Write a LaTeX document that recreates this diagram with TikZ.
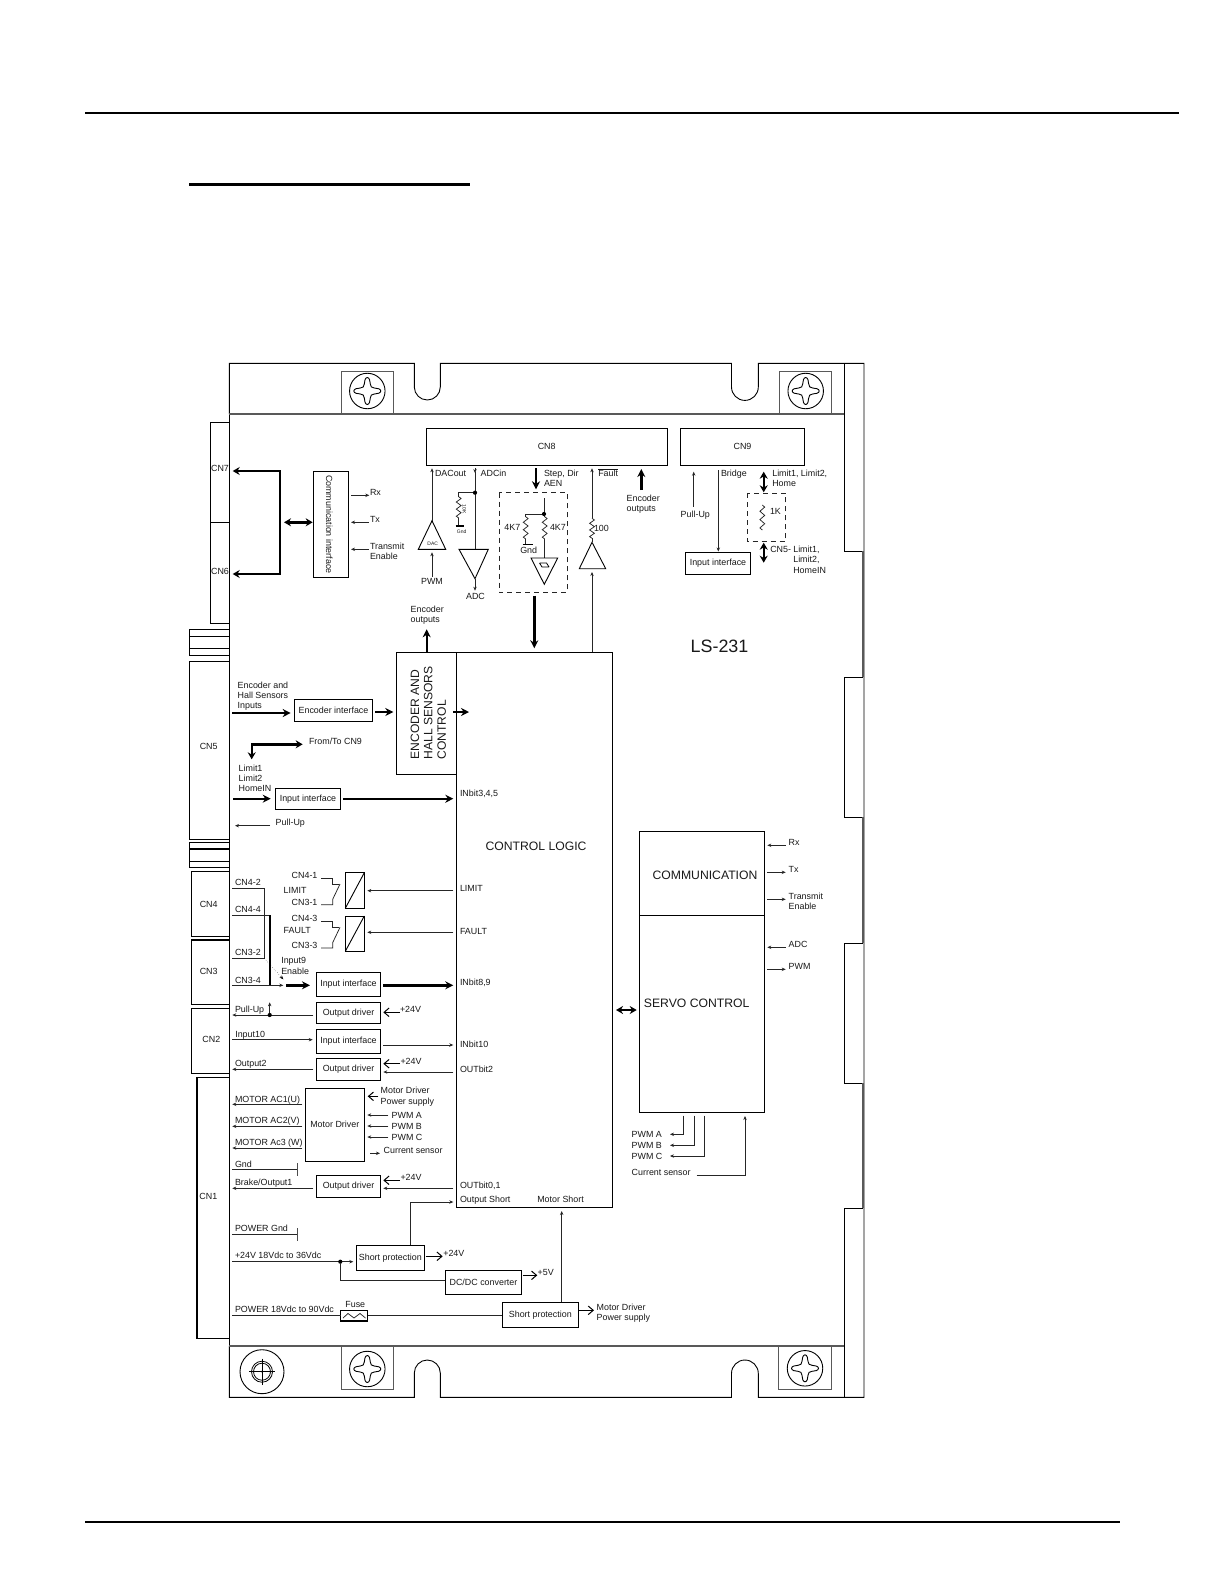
\documentclass[tikz,border=0pt]{standalone}
\usepackage{fontspec}
\setmainfont{Liberation Sans}
\usetikzlibrary{arrows.meta}
\definecolor{ink}{gray}{0.1}
\tikzset{
  boxst/.style={draw=black,line width=0.9pt,inner sep=0pt,outer sep=0pt,align=center,font=\fontsize{8.9}{10}\selectfont,text=ink},
  board/.style={draw=black,line width=0.9pt},
  boardg/.style={draw=black!65,line width=1.1pt},
  thin wire/.style={draw=black!85,line width=0.75pt},
  arr/.style={draw=black!85,line width=0.75pt,-{Stealth[length=4pt,width=3.4pt]}},
  rarr/.style={draw=black!85,line width=0.75pt,{Stealth[length=4pt,width=3.4pt]}-},
  dbl/.style={draw=black!85,line width=0.75pt,{Stealth[length=4pt,width=3.4pt]}-{Stealth[length=4pt,width=3.4pt]}},
  hv/.style={draw=black,line width=2.4pt,-{Stealth[length=8pt,width=8pt]}},
  hvd/.style={draw=black,line width=2.4pt,{Stealth[length=7pt,width=8pt]}-{Stealth[length=7pt,width=8pt]}},
  openarr/.style={draw=black,line width=1pt,-{Straight Barb[length=5pt,width=8.5pt]}},
  lb/.style={inner sep=0pt,outer sep=0pt,text=ink,font=\fontsize{8.9}{10}\selectfont},
  dashbox/.style={draw=black!85,line width=0.9pt,dash pattern=on 5pt off 4pt},
  dotst/.style={circle,fill=black,inner sep=0pt,minimum size=4.2pt},
}
\newcounter{cc}
\newcommand\bx[6]{\pgfmathsetmacro\bw{#4-#2}\pgfmathsetmacro\bh{#5-#3}\node[boxst,minimum width=\bw pt,minimum height=\bh pt] (#1) at ({(#2+#4)/2},{(#3+#5)/2}) {#6};}
\newcommand\lab[3]{\stepcounter{cc}\node[lb,anchor=base west] (t\thecc) at (#1,#2+3.2) {#3};}
\newcommand\labc[3]{\stepcounter{cc}\node[lb,anchor=base] (t\thecc) at (#1,#2+3.2) {#3};}
\newcommand\wire[5]{\stepcounter{cc}\coordinate (a\thecc) at (#2,#3);\coordinate (b\thecc) at (#4,#5);\draw[#1] (a\thecc) -- (b\thecc);}
\newcommand\resv[3]{\pgfmathsetmacro\rh{(#3-#2)/6}\draw[thin wire] (#1,#2) -- ++(2.4,\rh/2) -- ++(-4.8,\rh) -- ++(4.8,\rh) -- ++(-4.8,\rh) -- ++(4.8,\rh) -- ++(-4.8,\rh) -- (#1,#3);}
\newcommand\screw[3]{\begin{scope}[shift={(#2,#3)}]
  \node[draw=black,line width=0.9pt,circle,minimum size=35.5pt,inner sep=0pt,outer sep=0pt] (#1) at (0,0) {};
  \draw[line width=0.9pt] (13.5,0) .. controls (13.5,-2) and (10,-3) .. (7,-3) .. controls (4.5,-3) and (3,-4.5) .. (3,-7) .. controls (3,-10) and (2,-13.5) .. (0,-13.5)
   .. controls (-2,-13.5) and (-3,-10) .. (-3,-7) .. controls (-3,-4.5) and (-4.5,-3) .. (-7,-3) .. controls (-10,-3) and (-13.5,-2) .. (-13.5,0)
   .. controls (-13.5,2) and (-10,3) .. (-7,3) .. controls (-4.5,3) and (-3,4.5) .. (-3,7) .. controls (-3,10) and (-2,13.5) .. (0,13.5)
   .. controls (2,13.5) and (3,10) .. (3,7) .. controls (3,4.5) and (4.5,3) .. (7,3) .. controls (10,3) and (13.5,2) .. (13.5,0) -- cycle;
\end{scope}}
\begin{document}
\begin{tikzpicture}[x=1pt,y=-1pt]
\useasboundingbox (0,0) rectangle (1224,1584);
\fill[white] (0,0) rectangle (1224,1584);
% page rules
\coordinate (r1a) at (85,113); \coordinate (r1b) at (1179,113);
\draw[line width=2.8pt] (r1a) -- (r1b);
\coordinate (r2a) at (189,184.5); \coordinate (r2b) at (470,184.5);
\draw[line width=2.4pt] (r2a) -- (r2b);
\coordinate (r3a) at (85,1522); \coordinate (r3b) at (1120,1522);
\draw[line width=2.8pt] (r3a) -- (r3b);
% board outline
\draw[board] (229.3,414) -- (229.3,363.3) -- (414.3,363.3) -- (414.3,387)
  arc[start angle=180,end angle=0,radius=13] -- (440.3,363.3) -- (731.5,363.3) -- (731.5,387)
  arc[start angle=180,end angle=0,radius=13.4] -- (758.3,363.3) -- (864,363.3) -- (864,1397.3) -- (758.3,1397.3) -- (758.3,1373.4)
  arc[start angle=0,end angle=-180,radius=13.4] -- (731.5,1397.3) -- (440.3,1397.3) -- (440.3,1373)
  arc[start angle=0,end angle=-180,radius=13] -- (414.3,1397.3) -- (229.3,1397.3) -- (229.3,1346);
\draw[board] (229.3,414) -- (229.3,1346);
\draw[boardg] (229.3,414) -- (844.3,414);
\draw[boardg] (229.3,1346) -- (844.3,1346);
\draw[board] (844.3,363.3) -- (844.3,551.3) -- (863,551.3);
\draw[board] (863,677) -- (844.3,677) -- (844.3,817) -- (863,817);
\draw[board] (863,943) -- (844.3,943) -- (844.3,1083) -- (863,1083);
\draw[board] (863,1208) -- (844.3,1208) -- (844.3,1397.3);
\draw[boardg] (863,551.3) -- (863,677);
\draw[boardg] (863,817) -- (863,943);
\draw[boardg] (863,1083) -- (863,1208);
% screw boxes
\draw[boardg,line width=0.9pt] (341.3,414) -- (341.3,371) -- (393.3,371) -- (393.3,414);
\draw[boardg,line width=0.9pt] (779,414) -- (779,371) -- (831.7,371) -- (831.7,414);
\draw[boardg,line width=0.9pt] (341.3,1346) -- (341.3,1389) -- (393.3,1389) -- (393.3,1346);
\draw[boardg,line width=0.9pt] (778.7,1346) -- (778.7,1389) -- (831.7,1389) -- (831.7,1346);
\screw{s1}{367.3}{391}
\screw{s2}{805.7}{391}
\screw{s3}{367.3}{1369}
\screw{s4}{805}{1368.3}
% mount hole
\begin{scope}[shift={(262,1371.7)}]
\node[draw=black,line width=0.9pt,circle,minimum size=44pt,inner sep=0pt] (hole) at (0,0) {};
\draw[line width=0.8pt] (0,0) circle (10.5);
\draw[line width=0.8pt] (0,0) circle (8.5);
\fill (0,0) circle (1);
\draw[line width=0.6pt] (-13,0) -- (13,0) (0,-13) -- (0,13);
\end{scope}
% left connectors
\bx{cn7}{210.3}{422}{229.3}{522}{}
\bx{cn6}{210.3}{522}{229.3}{623}{}
\labc{220}{468}{CN7}
\labc{220}{571}{CN6}
\draw[board] (229.3,629.3) -- (189,629.3) -- (189,655) -- (229.3,655) (189,636) -- (229.3,636) (189,648) -- (229.3,648);
\bx{cn5}{189}{661.3}{229.3}{839.3}{}
\labc{208.7}{746.7}{CN5}
\draw[board] (229.3,842.3) -- (189,842.3) -- (189,867.3) -- (229.3,867.3) (189,861) -- (229.3,861);
\draw[line width=1.7pt] (189,849) -- (229.3,849);
\bx{cn4}{191.3}{871.3}{229.3}{936.7}{}
\labc{208.7}{904}{CN4}
\bx{cn3}{191.3}{940}{229.3}{1004.3}{}
\labc{208.7}{971.7}{CN3}
\draw[line width=1.6pt] (191.3,940) -- (229.3,940);
\bx{cn2}{191.3}{1008.3}{229.3}{1073.3}{}
\labc{211.3}{1039.3}{CN2}
\bx{cn1}{196.7}{1077.3}{229.3}{1338.3}{}
\labc{208.3}{1196}{CN1}
\draw[line width=1.7pt] (196.7,1077.3) -- (196.7,1338.3);
% CN8 CN9
\bx{cn8}{426.3}{428}{667}{465.7}{CN8}
\bx{cn9}{680.3}{428}{804.7}{465.7}{CN9}
% communication interface
\bx{comm}{313.7}{471.3}{348.3}{577.3}{}
\node[lb,rotate=-90] (commt) at (329.3,524.3) {Communication interface};
\coordinate (bus1) at (232.7,471); \coordinate (bus2) at (280,471); \coordinate (bus3) at (280,574); \coordinate (bus4) at (232.7,574);
\draw[hvd] (bus1) -- (bus2) -- (bus3) -- (bus4);
\wire{hvd}{284}{522.3}{312.7}{522.3}
\wire{arr}{351}{495.3}{369.3}{495.3}
\wire{rarr}{351}{522.3}{369.3}{522.3}
\wire{rarr}{351}{549.3}{369.3}{549.3}
\lab{370}{492}{Rx}
\lab{370}{519.3}{Tx}
\lab{370}{546.7}{Transmit}
\lab{370}{556.7}{Enable}
% DAC
\coordinate (dacT) at (432,520.7);
\draw[boxst] (418.3,549.3) -- (445.7,549.3) -- (dacT) -- cycle;
\node[lb,font=\fontsize{5}{6}\selectfont] (dacl) at (432.7,544) {DAC};
\coordinate (dacU) at (432,468.3);
\draw[arr] (dacT) -- (dacU);
\wire{arr}{432}{576.7}{432}{552.3}
\lab{435}{473.3}{DACout}
\labc{432}{581.7}{PWM}
% ADC
\coordinate (adcA) at (475,578.7);
\coordinate (adcB) at (475,468.3);
\coordinate (adcT) at (475,549.3);
\draw[boxst] (459,549.3) -- (488.3,549.3) -- (adcA) -- cycle;
\draw[arr] (adcB) -- (475,473);
\draw[thin wire] (475,472) -- (adcT);
\wire{arr}{475}{578.7}{475}{590.7}
\labc{475.5}{596.7}{ADC}
\lab{480.7}{473.3}{ADCin}
\node[dotst] (d1) at (475,492.7) {};
\draw[thin wire] (d1) -- (458.7,492.7) -- (458.7,496.7);
\resv{458.7}{496.7}{518}
\draw[thin wire] (458.7,518) -- (458.7,526);
\draw[line width=1.6pt] (455.5,526) -- (463.5,526);
\node[lb,font=\fontsize{5}{6}\selectfont] (g1) at (461.7,531.5) {Gnd};
\node[lb,font=\fontsize{5}{6}\selectfont,rotate=-90] (r10k) at (464.3,509.3) {10K};
% step dir
\wire{hv}{536}{468.3}{536}{489.3}
\lab{544}{473.7}{Step, Dir}
\lab{544}{483.7}{AEN}
\draw[dashbox] (499.3,492.7) rectangle (567,592.7);
\node[dotst] (d2) at (544,514) {};
\coordinate (d2u) at (544,498.3);
\draw[thin wire] (d2u) -- (d2);
\draw[thin wire] (d2) -- (525.7,514) -- (525.7,516.7);
\resv{525.7}{516.7}{539}
\draw[thin wire] (525.7,539) -- (525.7,544.3);
\draw[line width=1.6pt] (522.7,544.3) -- (532.7,544.3);
\labc{528.7}{550}{Gnd}
\labc{512.3}{527.7}{4K7}
\lab{550}{527.7}{4K7}
\draw[thin wire] (d2) -- (544,516.7);
\resv{544.7}{516.7}{539}
\draw[thin wire] (544.7,539) -- (544.7,558);
\draw[boxst] (531,558) -- (557.7,558) -- (544.3,584.3) -- cycle;
\draw[line width=0.8pt] (539.5,563) -- (546.5,563) -- (549,567) (539.5,563) -- (542,567) -- (549,567);
\wire{hv}{534.3}{595.7}{534.3}{648.3}
% fault
\coordinate (fT) at (592,542.3);
\draw[boxst] (579.3,568.7) -- (605.7,568.7) -- (fT) -- cycle;
\resv{592}{518.3}{538.3}
\draw[thin wire] (592,538.3) -- (fT);
\coordinate (fU) at (592,468.3);
\coordinate (fM) at (592,518.3);
\draw[arr] (fM) -- (fU);
\wire{arr}{592}{652.7}{592}{572}
\lab{594}{528.7}{100}
\lab{598.3}{473.7}{$\overline{\mbox{Fault}}$}
\wire{hv}{641.3}{490}{641.3}{469}
\lab{626.7}{498}{Encoder}
\lab{626.7}{508}{outputs}
% CN9 side
\wire{arr}{693.7}{506.7}{693.7}{471.7}
\lab{680.7}{514}{Pull-Up}
\bx{ii0}{685.3}{552.3}{750.7}{574.3}{Input interface}
\coordinate (brT) at (718.3,470);
\draw[arr] (brT) -- (718.3,551.5);
\lab{721}{473.7}{Bridge}
\wire{hvd}{763.7}{471.7}{763.7}{492.3}
\lab{772.3}{473.7}{Limit1, Limit2,}
\lab{772.3}{483.7}{Home}
\draw[dashbox] (747.3,493) rectangle (785.3,541.7);
\resv{762.3}{505}{530}
\lab{770}{511.7}{1K}
\wire{hvd}{763.7}{542.7}{763.7}{562.7}
\lab{770.3}{549.3}{CN5-}
\lab{793.3}{549.3}{Limit1,}
\lab{793.3}{559.3}{Limit2,}
\lab{793.3}{570}{HomeIN}
\node[lb,font=\fontsize{17.9}{20}\selectfont,anchor=center] (ls) at (719.5,646) {LS-231};
% control logic
\bx{ctl}{456.7}{652.7}{612.7}{1207.3}{}
\bx{enc}{396.7}{652.7}{456.7}{774.3}{}
\node[lb,rotate=90,align=left,font=\fontsize{12.1}{13.3}\selectfont,anchor=center] (enct) at (428.3,713) {ENCODER AND\\HALL SENSORS\\CONTROL};
\wire{hv}{426.7}{652.7}{426.7}{629.3}
\lab{410.7}{609}{Encoder}
\lab{410.7}{619}{outputs}
\node[lb,font=\fontsize{12.2}{14}\selectfont,anchor=center] (ctlt) at (536,846) {CONTROL LOGIC};
% encoder input
\lab{237.7}{685.7}{Encoder and}
\lab{237.7}{695.7}{Hall Sensors}
\lab{237.7}{705.7}{Inputs}
\wire{hv}{232.3}{713}{290.7}{713}
\bx{ei}{294.3}{699.3}{372.7}{721.3}{Encoder interface}
\wire{hv}{375}{712}{393.3}{712}
\wire{hv}{453.3}{712}{469}{712}
\coordinate (ft1) at (302.7,744.3); \coordinate (ft2) at (251.7,744.3); \coordinate (ft3) at (251.7,759.3);
\draw[hvd] (ft1) -- (ft2) -- (ft3);
\lab{309}{741.7}{From/To CN9}
\lab{238.7}{768.3}{Limit1}
\lab{238.7}{778.3}{Limit2}
\lab{238.7}{788.7}{HomeIN}
\wire{hv}{233}{798.7}{270.7}{798.7}
\bx{ii1}{275.3}{788.3}{340.7}{809.3}{Input interface}
\wire{hv}{343}{798.7}{453.3}{798.7}
\lab{460}{793}{INbit3,4,5}
\wire{arr}{270}{825.7}{235}{825.7}
\lab{275.7}{822.7}{Pull-Up}
% CN3/CN4 wiring
\lab{235}{882.3}{CN4-2}
\lab{235}{909.3}{CN4-4}
\lab{235}{952.7}{CN3-2}
\lab{235}{980}{CN3-4}
\draw[thin wire] (232,888.3) -- (264.3,888.3) -- (264.3,958.3) -- (232,958.3);
\draw[thin wire] (232,915.3) -- (270,915.3);
\draw[line width=1.3pt] (270,915.3) -- (270,985.3);
\wire{arr}{232}{985.3}{283.3}{985.3}
\draw[line width=0.4pt,dotted,-{Stealth[length=4pt,width=3.2pt]}] (264.3,958.3) -- (283.3,979.3);
\lab{281.3}{960.7}{Input9}
\lab{281.3}{971}{Enable}
\wire{hv}{286}{985.3}{310}{985.3}
\bx{ii2}{316.3}{972.7}{380.7}{996.3}{Input interface}
\wire{hv}{383.3}{985.3}{453.3}{985.3}
\lab{460}{982.3}{INbit8,9}
% opto
\bx{op1}{345.3}{872.7}{364.3}{908.3}{}
\bx{op2}{345.3}{916}{364.3}{951.3}{}
\draw[line width=0.9pt] (op1.south west) -- (op1.north east);
\draw[line width=0.9pt] (op2.south west) -- (op2.north east);
\wire{arr}{453.3}{890.7}{367.3}{890.7}
\wire{arr}{453.3}{932.3}{367.3}{932.3}
\lab{460}{888}{LIMIT}
\lab{460}{931}{FAULT}
\lab{291.7}{875.3}{CN4-1}
\lab{283.7}{890.3}{LIMIT}
\lab{291.7}{902.3}{CN3-1}
\draw[thin wire] (321,878.3) -- (332,878.3) -- (332,884) -- (339.3,884);
\draw[thin wire] (321,904.7) -- (332.7,904.7) -- (332.7,899.3) -- (340,884);
\lab{291.7}{918.7}{CN4-3}
\lab{283.7}{930.7}{FAULT}
\lab{291.7}{945.7}{CN3-3}
\draw[thin wire] (321,921.7) -- (332,921.7) -- (332,927.3) -- (339.3,927.3);
\draw[thin wire] (321,948) -- (332.7,948) -- (332.7,942.6) -- (340,927.3);
% output driver 1
\bx{od1}{316.3}{1002.3}{380.7}{1023.3}{Output driver}
\wire{openarr}{400}{1012.3}{383.3}{1012.3}
\lab{400}{1009.7}{+24V}
\wire{arr}{313.3}{1015}{232.3}{1015}
\node[dotst] (d3) at (269.7,1015) {};
\coordinate (d3u) at (269.7,1002.3);
\draw[arr] (d3) -- (d3u);
\lab{235}{1009.7}{Pull-Up}
\lab{235.3}{1034}{Input10}
\wire{arr}{232}{1039.7}{312.7}{1039.7}
\bx{ii3}{316.3}{1029.3}{380.7}{1053.3}{Input interface}
\wire{arr}{383.3}{1045}{453.3}{1045}
\lab{460}{1044.7}{INbit10}
\bx{od2}{316.3}{1058.3}{380.7}{1080.3}{Output driver}
\wire{arr}{313.3}{1069.3}{232.3}{1069.3}
\lab{235}{1063.7}{Output2}
\wire{openarr}{400}{1063.7}{383.3}{1063.7}
\lab{400.5}{1061}{+24V}
\wire{arr}{453.3}{1072}{383.3}{1072}
\lab{460}{1069}{OUTbit2}
% motor driver
\bx{md}{305.3}{1088.3}{364.3}{1161.3}{Motor Driver}
\lab{235}{1099}{MOTOR AC1(U)}
\lab{235}{1120.7}{MOTOR AC2(V)}
\lab{235}{1142.3}{MOTOR Ac3 (W)}
\wire{arr}{302.3}{1104.3}{232.3}{1104.3}
\wire{arr}{302.3}{1126.3}{232.3}{1126.3}
\wire{arr}{302.3}{1148}{232.3}{1148}
\lab{380.7}{1090.7}{Motor Driver}
\lab{380.7}{1101}{Power supply}
\wire{openarr}{378.3}{1096.3}{367.7}{1096.3}
\wire{arr}{388.3}{1115}{367.3}{1115}
\wire{arr}{388.3}{1126}{367.3}{1126}
\wire{arr}{388.3}{1137}{367.3}{1137}
\lab{391.7}{1115}{PWM A}
\lab{391.7}{1126}{PWM B}
\lab{391.7}{1137}{PWM C}
\wire{arr}{370}{1153.3}{380}{1153.3}
\lab{383.7}{1150.3}{Current sensor}
\lab{235}{1164}{Gnd}
\wire{thin wire}{232.3}{1169.3}{297}{1169.3}
\draw[line width=1pt,black!70] (297,1163.3) -- (297,1175.7);
\lab{235}{1182.7}{Brake/Output1}
\wire{arr}{313.3}{1188.3}{232.3}{1188.3}
\bx{od3}{316.3}{1175.3}{380.7}{1197.3}{Output driver}
\wire{openarr}{400}{1180.3}{383.3}{1180.3}
\lab{400.5}{1177.3}{+24V}
\wire{arr}{453.3}{1188.3}{383.3}{1188.3}
\lab{460}{1185.7}{OUTbit0,1}
\lab{460}{1199}{Output Short}
\lab{537.3}{1199}{Motor Short}
% power
\lab{235}{1228.7}{POWER Gnd}
\wire{thin wire}{232.3}{1234}{297}{1234}
\draw[line width=1pt,black!70] (297,1228.3) -- (297,1240.7);
\lab{235}{1255.7}{+24V 18Vdc to 36Vdc}
\bx{sp1}{356.3}{1245.3}{424.3}{1270.3}{Short protection}
\wire{arr}{232.3}{1261.7}{353.3}{1261.7}
\node[dotst] (d4) at (340.3,1261.7) {};
\bx{dc}{445.3}{1270.3}{521.7}{1294.3}{DC/DC converter}
\coordinate (dcin) at (445.3,1280.3);
\draw[thin wire] (d4) -- (340.3,1280.3) -- (dcin);
\coordinate (os) at (453.3,1202);
\coordinate (spn) at (410.3,1245.3);
\draw[arr] (spn) -- (410.3,1202) -- (os);
\wire{openarr}{425.7}{1256.3}{442.7}{1256.3}
\lab{443.3}{1253.3}{+24V}
\wire{openarr}{522.7}{1275.3}{537.3}{1275.3}
\lab{537.7}{1272.3}{+5V}
\lab{235}{1309.7}{POWER 18Vdc to 90Vdc}
\bx{fuse}{340.7}{1310.3}{367.7}{1321}{}
\draw[line width=1.5pt] (340.7,1321) -- (367.7,1321);
\draw[thin wire] (343,1318) -- (348,1313.5) -- (354,1318) -- (360,1313.5) -- (365.5,1318);
\labc{355.3}{1304.3}{Fuse}
\bx{sp2}{502.3}{1302.3}{578.3}{1327.3}{Short protection}
\coordinate (pw0) at (232.3,1315.7);
\draw[thin wire] (pw0) -- (fuse.west |- pw0);
\draw[thin wire] (fuse.east |- pw0) -- (sp2.west |- pw0);
\wire{openarr}{579}{1310.3}{594}{1310.3}
\lab{596.7}{1307.3}{Motor Driver}
\lab{596.7}{1317.7}{Power supply}
\coordinate (ms) at (561.7,1211);
\draw[arr] (ms |- sp2.north) -- (ms);
% servo
\bx{com}{639.3}{831.3}{764.3}{915.3}{}
\bx{srv}{639.3}{915.3}{764.3}{1112.3}{}
\node[lb,font=\fontsize{12.2}{14}\selectfont,anchor=center] (comt) at (705,875.7) {COMMUNICATION};
\node[lb,font=\fontsize{12.2}{14}\selectfont,anchor=center] (srvt) at (696.7,1003) {SERVO CONTROL};
\wire{hvd}{616}{1010}{636.7}{1010}
\wire{arr}{785.7}{845.3}{767.3}{845.3}
\lab{788.7}{842}{Rx}
\wire{arr}{767.3}{872.3}{785.7}{872.3}
\lab{788.7}{869}{Tx}
\wire{arr}{767.3}{899.3}{785.7}{899.3}
\lab{788.7}{896}{Transmit}
\lab{788.7}{906}{Enable}
\wire{arr}{785.7}{947.3}{767.3}{947.3}
\lab{788.7}{944.3}{ADC}
\wire{arr}{767.3}{969.3}{785.7}{969.3}
\lab{788.7}{966.3}{PWM}
\coordinate (pa) at (683.3,1115.7); \coordinate (pb) at (694,1115.7); \coordinate (pc) at (704.7,1115.7);
\draw[arr] (pa) -- (683.3,1134.3) -- (670,1134.3);
\draw[arr] (pb) -- (694,1145.3) -- (670,1145.3);
\draw[arr] (pc) -- (704.7,1156) -- (670,1156);
\lab{631.7}{1134.7}{PWM A}
\lab{631.7}{1145.7}{PWM B}
\lab{631.7}{1156.7}{PWM C}
\lab{631.7}{1172}{Current sensor}
\coordinate (cs) at (696.7,1175.3); \coordinate (cse) at (745,1116);
\draw[arr] (cs) -- (745,1175.3) -- (cse);
\end{tikzpicture}
\end{document}
